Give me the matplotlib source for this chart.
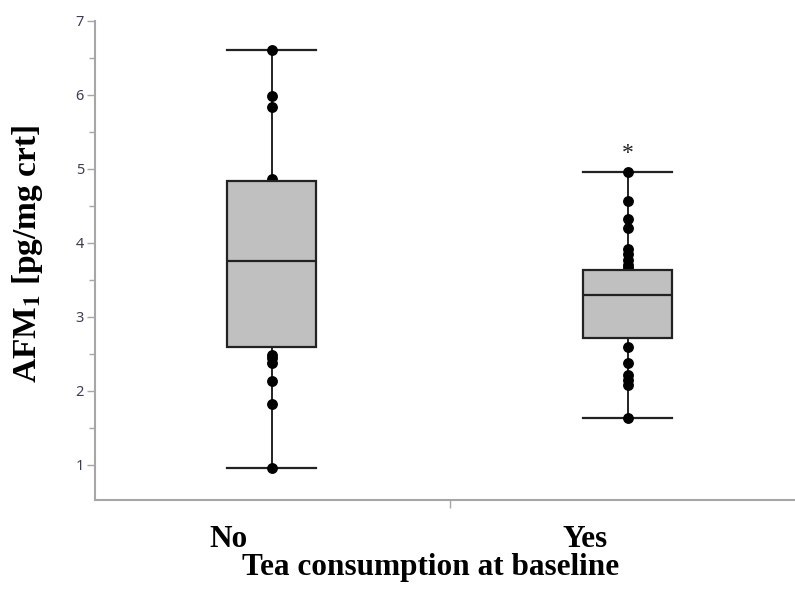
import matplotlib
matplotlib.use('Agg')
import matplotlib.pyplot as plt
import matplotlib.transforms as mtransforms
from matplotlib.ticker import MultipleLocator

# summary values per group (pg/mg creatinine)
groups = ['No', 'Yes']
whisk_lo = [0.96, 1.64]
q1 = [2.59, 2.72]
median = [3.75, 3.30]
q3 = [4.84, 3.64]
whisk_hi = [6.61, 4.96]

# individual observations outside / at the edge of the boxes
pts_no = [6.61, 5.98, 5.84, 4.87, 2.49, 2.44, 2.38, 2.13, 1.82, 0.96]
pts_yes = [4.96, 4.57, 4.33, 4.20, 3.92, 3.85, 3.77, 3.70, 3.66,
           2.60, 2.38, 2.22, 2.15, 2.08, 1.64]
star_group = 1

plt.rcParams['mathtext.fontset'] = 'stix'
serif = 'Liberation Serif'
axcol = '#a6a6a6'

fig = plt.figure(figsize=(7.95, 5.90), dpi=100)
ax = fig.add_axes([95/795, 90/590, 1 - 95/795, 479/590])

stats = []
for i, g in enumerate(groups):
    stats.append(dict(label=g, whislo=whisk_lo[i], q1=q1[i], med=median[i],
                      q3=q3[i], whishi=whisk_hi[i], fliers=[]))

ax.bxp(stats, positions=[0, 1], widths=0.25, patch_artist=True,
       showfliers=False,
       boxprops=dict(facecolor='#c0c0c0', edgecolor='#222222', lw=1.6, zorder=3),
       medianprops=dict(color='#222222', lw=1.6, zorder=4),
       whiskerprops=dict(color='#222222', lw=1.4, zorder=1),
       capprops=dict(color='#222222', lw=1.6, zorder=1),
       capwidths=0.25)

for x, pts in enumerate([pts_no, pts_yes]):
    ax.plot([x] * len(pts), pts, 'o', color='black', ms=6.8, zorder=2)

ax.annotate('*', (star_group, whisk_hi[star_group]), xytext=(0, 6),
            textcoords='offset points', ha='center', va='bottom',
            fontsize=17, family=serif, color='#222222')

ax.set_xlim(-0.496, 1.47)
ax.set_ylim(0.527, 7.0)

ax.yaxis.set_major_locator(MultipleLocator(1))
ax.yaxis.set_minor_locator(MultipleLocator(0.5))
ax.set_xticks([0.5])
ax.set_xticklabels([''])
ax.tick_params(axis='x', length=6, width=1, color=axcol)
ax.tick_params(axis='y', which='major', length=6, width=1, color=axcol,
               labelsize=10.5, labelcolor='#3c3c55', pad=2)
ax.tick_params(axis='y', which='minor', length=4, width=1, color=axcol)
for lab in ax.get_yticklabels():
    lab.set_family('Noto Sans')

for s in ['top', 'right']:
    ax.spines[s].set_visible(False)
for s in ['left', 'bottom']:
    ax.spines[s].set_color(axcol)
    ax.spines[s].set_linewidth(1.5)

# group names sit a little left of the box centres
trans = mtransforms.blended_transform_factory(ax.transData, fig.transFigure)
for i, g in enumerate(groups):
    ax.text(i - 0.12, 43/590, g, transform=trans, ha='center', va='baseline',
            fontsize=22.5, fontweight='bold', family=serif)

fig.text(431/795, 15/590, 'Tea consumption at baseline',
         ha='center', va='baseline', fontsize=22.5, fontweight='bold', family=serif)
fig.text(28/795, 0.569, r'AFM$_\mathbf{1}$ [pg/mg crt]', rotation=90,
         ha='center', va='center', fontsize=24, fontweight='bold', family=serif)

fig.savefig('out.png', dpi=100)
